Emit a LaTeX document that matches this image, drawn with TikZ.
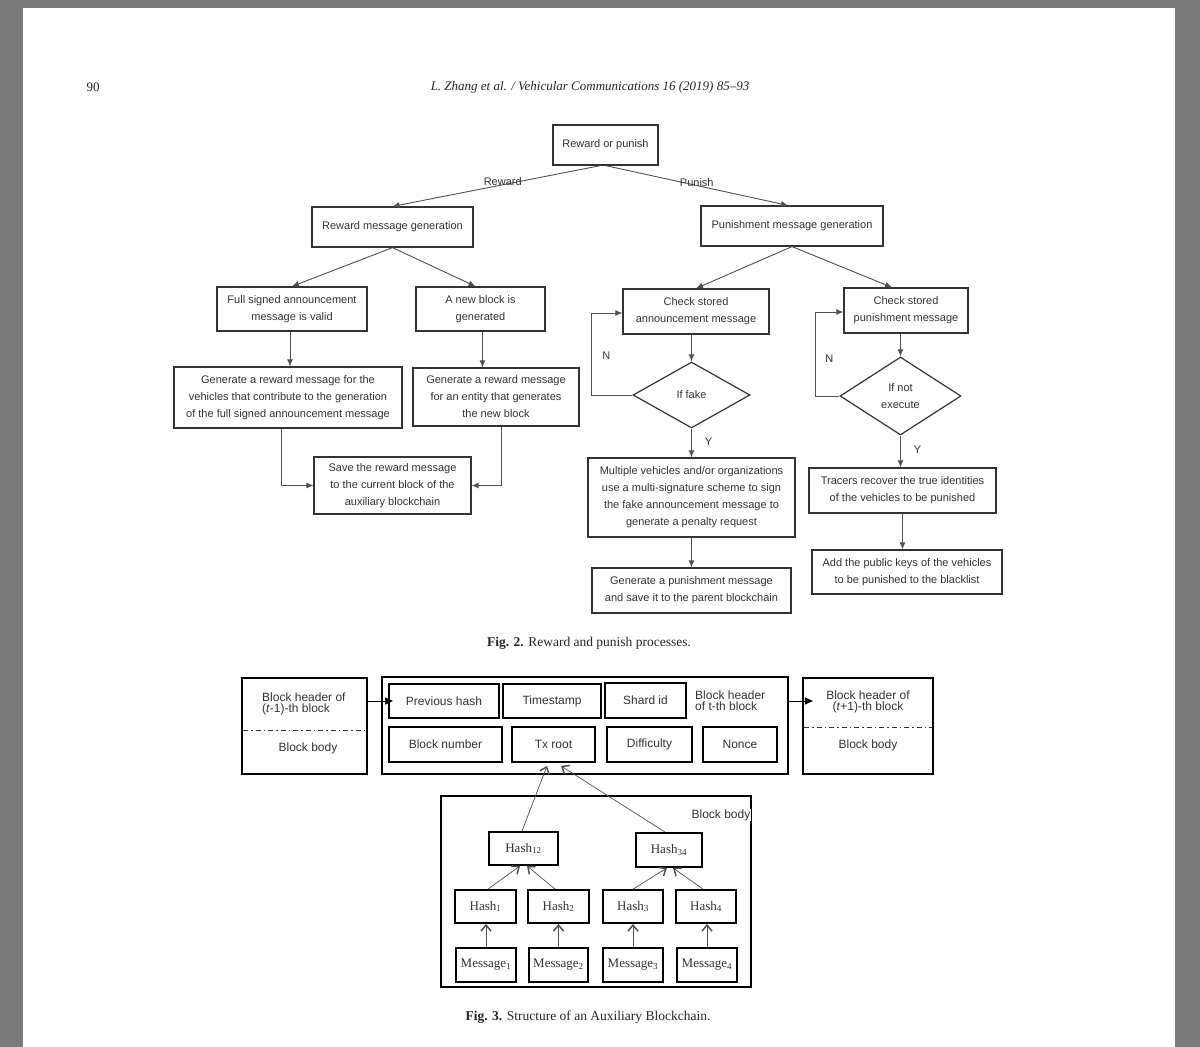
\documentclass[tikz,border=0pt]{standalone}
\usepackage{fontspec}
\setmainfont{Liberation Serif}
\setsansfont{Liberation Sans}
\usetikzlibrary{arrows.meta,shapes.geometric}
\definecolor{pagegray}{HTML}{7A7A7A}
\definecolor{ink}{HTML}{333333}
\definecolor{lnk}{HTML}{505050}
\begin{document}
\begin{tikzpicture}[x=1pt,y=-1pt,
  wh/.style 2 args={minimum width=#1pt, minimum height=#2pt},
  fbox/.style={draw=ink, line width=1.2pt, text=ink, align=center, inner sep=0pt, font=\sffamily\fontsize{11}{17}\selectfont},
  fdia/.style={diamond, draw=ink, line width=1.2pt, text=ink, align=center, inner sep=0pt, font=\sffamily\fontsize{11}{17}\selectfont},
  farr/.style={draw=lnk, line width=0.9pt, -{Latex[length=7pt,width=6pt]}},
  flab/.style={text=ink, inner sep=0pt, font=\sffamily\fontsize{11}{13}\selectfont},
  bouter/.style={draw=black, line width=2.2pt, inner sep=0pt},
  binner/.style={draw=black, line width=1.8pt, inner sep=0pt, text=ink, font=\sffamily\fontsize{12}{11}\selectfont, align=center},
  btext/.style={text=ink, inner sep=0pt, font=\sffamily\fontsize{12}{11}\selectfont},
  hbox/.style={draw=black, line width=1.8pt, inner sep=0pt, text=ink, font=\fontsize{13}{14}\selectfont},
  harr/.style={draw=lnk, line width=0.7pt, -{Straight Barb[length=6pt,width=10pt,line width=1.5pt]}},
  barr/.style={draw=black, line width=1pt, -{Triangle[length=8pt,width=7pt]}},
  dashdot/.style={draw=ink, line width=1pt, dash pattern=on 5pt off 3pt on 1.5pt off 3pt},
  captxt/.style={text=black!85, inner sep=0pt, font=\fontsize{13.5}{15}\selectfont}
]
\useasboundingbox (0,0) rectangle (1200,1047);
\fill[pagegray] (0,0) rectangle (1200,1047);
\fill[white] (23,8) rectangle (1175,1047);

% page header
\node[text=black!85, inner sep=0pt, font=\fontsize{13}{14}\selectfont] (pgno) at (93,87) {90};
\node[text=black!85, inner sep=0pt, font=\itshape\fontsize{13}{14}\selectfont] (runhead) at (590,87) {L. Zhang et al. / Vehicular Communications 16 (2019) 85--93};

% ---------------- Fig. 2 ----------------
\node[fbox, wh={105}{40}] (rp) at (605.5,145) {Reward or punish};
\node[fbox, wh={161}{40}] (rmg) at (392.5,227) {Reward message generation};
\node[fbox, wh={182}{40}] (pmg) at (792,226) {Punishment message generation};
\node[fbox, wh={150}{44}] (fsa) at (292,309) {Full signed announcement\\message is valid};
\node[fbox, wh={129}{44}] (anb) at (480.5,309) {A new block is\\generated};
\node[fbox, wh={228}{61}] (grv) at (288,397.5) {Generate a reward message for the\\vehicles that contribute to the generation\\of the full signed announcement message};
\node[fbox, wh={166}{58}] (gre) at (496,397) {Generate a reward message\\for an entity that generates\\the new block};
\node[fbox, wh={157}{57}] (save) at (392.5,485.5) {Save the reward message\\to the current block of the\\auxiliary blockchain};
\node[fbox, wh={146}{45}] (csa) at (696,311.5) {Check stored\\announcement message};
\node[fbox, wh={124}{45}] (csp) at (906,310.5) {Check stored\\punishment message};
\node[fdia, wh={117}{66}] (fake) at (691.5,395) {If fake};
\node[fdia, wh={121}{78}] (notex) at (900.5,396) {If not\\execute};
\node[fbox, wh={207}{79}] (mv) at (691.5,497.5) {Multiple vehicles and/or organizations\\use a multi-signature scheme to sign\\the fake announcement message to\\generate a penalty request};
\node[fbox, wh={199}{45}] (gpm) at (691.5,590.5) {Generate a punishment message\\and save it to the parent blockchain};
\node[fbox, wh={187}{45}] (tr) at (902.5,490.5) {Tracers recover the true identities\\of the vehicles to be punished};
\node[fbox, wh={190}{44}] (apk) at (907,572) {Add the public keys of the vehicles\\to be punished to the blacklist};

\draw[farr] ([xshift=-5pt]rp.south) -- (rmg.north) node[flab, pos=0.47, yshift=3pt] {Reward};
\draw[farr] (rp.south) -- ([xshift=-4pt]pmg.north) node[flab, pos=0.5, yshift=3pt] {Punish};
\draw[farr] (rmg.south) -- (fsa.north);
\draw[farr] (rmg.south) -- ([xshift=-5pt]anb.north);
\draw[farr] ([xshift=-2pt]fsa.south) -- ([xshift=-2pt]fsa.south |- grv.north);
\draw[farr] ([xshift=2pt]anb.south) -- ([xshift=2pt]anb.south |- gre.north);
\draw[farr] ([xshift=-7pt]grv.south) |- (save.west);
\draw[farr] ([xshift=5pt]gre.south) |- (save.east);
\draw[farr] (pmg.south) -- (csa.north);
\draw[farr] (pmg.south) -- ([xshift=-14pt]csp.north);
\draw[farr] (fake.north |- csa.south) -- (fake.north);
\draw[farr] (fake.west) -- ++(-41,0) |- ([yshift=-1.5pt]csa.west) node[flab, pos=0.24, xshift=15pt] {N};
\draw[farr] (fake.south) -- (fake.south |- mv.north) node[flab, midway, xshift=17pt, yshift=1pt] {Y};
\draw[farr] (mv.south) -- (gpm.north);
\draw[farr] (notex.north |- csp.south) -- (notex.north);
\draw[farr] (notex.west) -- ++(-24,0) |- ([yshift=-1.5pt]csp.west) node[flab, pos=0.22, xshift=14pt] {N};
\draw[farr] (notex.south) -- (notex.south |- tr.north) node[flab, midway, xshift=17pt, yshift=2pt] {Y};
\draw[farr] (tr.south) -- (tr.south |- apk.north);

\node[captxt] (cap2) at (589,643) {\textbf{Fig. 2.} Reward and punish processes.};

% ---------------- Fig. 3 ----------------
\node[bouter, wh={125}{96}] (lb) at (304.5,726) {};
\draw[dashdot] (243,730) -- (366,730);
\node[btext, anchor=west, align=left] (lbh) at (262,704) {Block header of\\(\textit{t}-1)-th block};
\node[btext] (lbb) at (308,748) {Block body};

\node[bouter, wh={406}{97}] (mb) at (585,725.5) {};
\node[binner, wh={110}{34}] (pvh) at (444,701) {Previous hash};
\node[binner, wh={98}{34}] (ts) at (552,701) {Timestamp};
\node[binner, wh={81}{35}] (sid) at (645.5,700.5) {Shard id};
\node[btext, anchor=west, align=left] (bht) at (695,701) {Block header\\of t-th block};
\node[binner, wh={113}{35}] (bn) at (445.5,744.5) {Block number};
\node[binner, wh={83}{35}] (txr) at (553.5,744.5) {Tx root};
\node[binner, wh={85}{35}] (dif) at (649.5,744.5) {Difficulty};
\node[binner, wh={74}{35}] (non) at (740,744.5) {Nonce};

\node[bouter, wh={130}{96}] (rb) at (868,726) {};
\draw[dashdot] (804,727) -- (932,727);
\node[btext, align=center] (rbh) at (868,702) {Block header of\\(\textit{t}+1)-th block};
\node[btext] (rbb) at (868,745) {Block body};

\draw[barr] ([xshift=-2pt]lb.east |- pvh.west) -- ([xshift=5pt]pvh.west);
\draw[barr] (mb.east |- pvh.west) -- ([xshift=11pt]rb.west |- pvh.west);

\node[bouter, wh={310}{191}] (bb) at (596,891.5) {};
\node[btext, anchor=east, fill=white, inner sep=0.5pt] (bbl) at (751,815) {Block body};
\node[hbox, wh={69}{33}] (h12) at (523.5,848.5) {Hash\textsubscript{12}};
\node[hbox, wh={66}{34}] (h34) at (669,850) {Hash\textsubscript{34}};
\node[hbox, wh={61}{33}] (h1) at (485.5,906.5) {Hash\textsubscript{1}};
\node[hbox, wh={61}{33}] (h2) at (558.5,906.5) {Hash\textsubscript{2}};
\node[hbox, wh={60}{33}] (h3) at (633,906.5) {Hash\textsubscript{3}};
\node[hbox, wh={60}{33}] (h4) at (706,906.5) {Hash\textsubscript{4}};
\node[hbox, wh={60}{34}] (m1) at (486,965) {Message\textsubscript{1}};
\node[hbox, wh={59}{34}] (m2) at (558.5,965) {Message\textsubscript{2}};
\node[hbox, wh={60}{34}] (m3) at (633,965) {Message\textsubscript{3}};
\node[hbox, wh={60}{34}] (m4) at (707,965) {Message\textsubscript{4}};

\draw[harr] (m1.north) -- (m1.north |- h1.south);
\draw[harr] (m2.north) -- (h2.south);
\draw[harr] (m3.north) -- (h3.south);
\draw[harr] (m4.north) -- (m4.north |- h4.south);
\draw[harr] ([xshift=2.5pt]h1.north) -- ([xshift=-3.5pt]h12.south);
\draw[harr] ([xshift=-3.5pt]h2.north) -- ([xshift=3.5pt]h12.south);
\draw[harr] (h3.north) -- ([xshift=-2pt]h34.south);
\draw[harr] ([xshift=-3pt]h4.north) -- ([xshift=4pt]h34.south);
\draw[harr] ([xshift=-1.5pt]h12.north) -- ([xshift=-6.5pt,yshift=-3pt]txr.south);
\draw[harr] ([xshift=-4pt]h34.north) -- ([xshift=7.5pt,yshift=-3pt]txr.south);

\node[captxt] (cap3) at (588,1017) {\textbf{Fig. 3.} Structure of an Auxiliary Blockchain.};
\end{tikzpicture}
\end{document}
